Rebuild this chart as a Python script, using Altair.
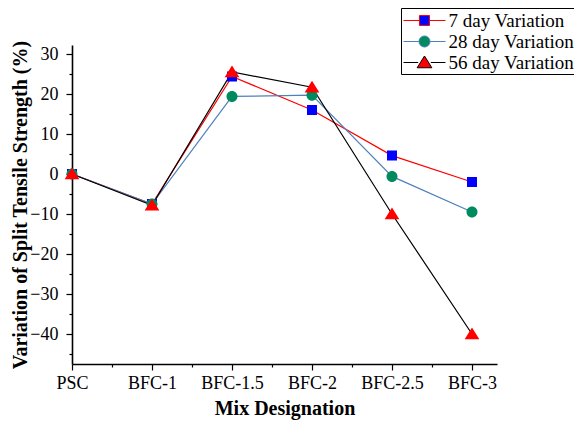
import altair as alt
import pandas as pd

categories = ["PSC", "BFC-1", "BFC-1.5", "BFC-2", "BFC-2.5", "BFC-3"]
series_names = ["7 day Variation", "28 day Variation", "56 day Variation"]
day7 = [0.0, -7.5, 24.4, 16.0, 4.6, -2.0]
day28 = [0.0, -7.5, 19.4, 19.7, -0.6, -9.5]
day56 = [0.0, -7.8, 25.5, 21.7, -10.0, -40.0]

line_colors = ["#ff0000", "#4f81bd", "#000000"]
marker_colors = ["#0000ff", "#008b5e", "#ff0000"]
# symbol paths (unit scaled by sqrt(size)/2): a legend line plus the marker
marker_paths = [
    "M-2,0H-0.48M0.48,0H2M-0.476,-0.476H0.476V0.476H-0.476Z",
    "M-2,0H-0.52M0.52,0H2M-0.524,0A0.524,0.524,0,1,0,0.524,0A0.524,0.524,0,1,0,-0.524,0Z",
    "M-2,0H-0.6M0.6,0H2M0,-0.62L0.7,0.5L-0.7,0.5Z",
]

rows = []
for name, vals in zip(series_names, [day7, day28, day56]):
    for i, v in enumerate(vals):
        rows.append({"series": name, "idx": i, "value": v})
df = pd.DataFrame(rows)

FONT = "Liberation Serif"
label_js = "[" + ",".join("'" + c + "'" for c in categories) + "]"

x_vals = [i * 0.5 for i in range(11)]
y_vals = list(range(-45, 31, 5))

x_enc = alt.X(
    "idx:Q",
    scale=alt.Scale(domain=[0, 5.3125], nice=False, zero=False),
    axis=alt.Axis(
        values=x_vals,
        labelExpr=f"datum.value % 1 === 0 ? {label_js}[datum.value] : ''",
        tickSize={"condition": {"test": "datum.value % 1 !== 0", "value": 3}, "value": 6},
        title="Mix Designation",
        grid=False,
        labelFlush=False,
        labelPadding=4,
        titlePadding=6,
    ),
)
y_enc = alt.Y(
    "value:Q",
    scale=alt.Scale(domain=[-47.5, 32.25], nice=False, zero=False),
    axis=alt.Axis(
        values=y_vals,
        labelExpr="datum.value % 10 === 0 ? datum.label : ''",
        tickSize={"condition": {"test": "datum.value % 10 !== 0", "value": 3}, "value": 6},
        title="Variation of Split Tensile Strength (%)",
        grid=False,
        labelFlush=False,
        labelPadding=8,
        titlePadding=-1,
    ),
)

legend = alt.Legend(
    title=None,
    orient="none",
    legendX=329,
    legendY=-37,
    symbolSize=441,
    symbolOffset=11,
    labelOffset=13,
    rowPadding=0,
    padding=1.5,
    strokeColor="black",
    symbolStrokeWidth=1,
    labelFont=FONT,
    labelFontSize=19,
    labelColor="black",
    labelLimit=300,
)

lines = alt.Chart(df).mark_line(strokeWidth=1.2).encode(
    x=x_enc,
    y=y_enc,
    stroke=alt.Stroke("series:N", scale=alt.Scale(domain=series_names, range=line_colors), legend=legend),
    detail="series:N",
)

points = alt.Chart(df).mark_point(filled=True, size=441, opacity=1).encode(
    x=x_enc,
    y=y_enc,
    fill=alt.Fill("series:N", scale=alt.Scale(domain=series_names, range=marker_colors), legend=legend),
    shape=alt.Shape("series:N", scale=alt.Scale(domain=series_names, range=marker_paths), legend=legend),
)

chart = (
    alt.layer(lines, points)
    .properties(
        width=425,
        height=319,
        padding={"left": 72, "top": 45, "right": 77, "bottom": 59},
        autosize=alt.AutoSizeParams(type="none"),
        background="white",
    )
    .configure_view(stroke=None)
    .configure_axis(
        domainColor="black",
        domainWidth=1.6,
        tickColor="black",
        tickWidth=1.2,
        labelFont=FONT,
        labelFontSize=18,
        labelColor="black",
        titleFont=FONT,
        titleFontSize=20,
        titleFontWeight="bold",
        titleColor="black",
    )
)

chart.save("out.html", embed_options={"renderer": "svg", "actions": False})
